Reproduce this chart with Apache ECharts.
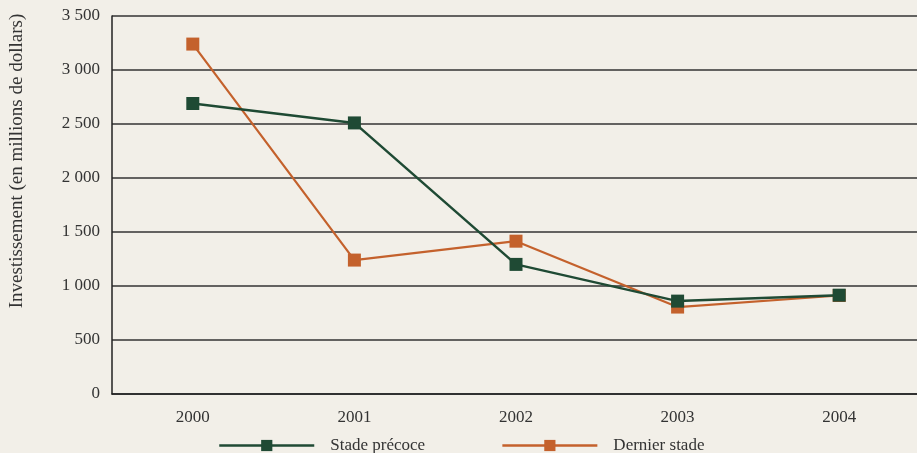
<!DOCTYPE html>
<html>
<head>
<meta charset="utf-8">
<script src="https://cdn.jsdelivr.net/npm/echarts@6/dist/echarts.min.js"></script>
<style>
  html, body { margin: 0; padding: 0; background: #f2efe8; }
  #main { width: 917px; height: 453px; }
</style>
</head>
<body>
<div id="main"></div>
<script>
var years = ["2000", "2001", "2002", "2003", "2004"];
var stadePrecoce = [2690, 2510, 1200, 860, 915];
var dernierStade = [3240, 1240, 1415, 805, 912];

var font = "Liberation Serif";
var green = "#1f4a34";
var orange = "#c4612c";

var myChart = echarts.init(document.getElementById("main"));
var option = {
  backgroundColor: "#f2efe8",
  textStyle: { fontFamily: font },
  grid: { left: 112, right: -3, top: 16, bottom: 59, outerBoundsMode: "none", containLabel: false },
  legend: {
    left: 213,
    top: 432,
    itemWidth: 95,
    itemHeight: 14,
    itemGap: 76,
    lineStyle: { width: 2.5 },
    textStyle: { fontFamily: font, fontSize: 17, color: "#333", padding: [0, 0, 0, 11] },
    data: ["Stade précoce", "Dernier stade"]
  },
  xAxis: {
    type: "category",
    data: years,
    axisLine: { lineStyle: { color: "#222", width: 1.5 } },
    axisTick: { inside: true, length: 7, alignWithLabel: true, lineStyle: { color: "#222" } },
    axisLabel: { margin: 15, fontSize: 17, color: "#333", fontFamily: font }
  },
  yAxis: {
    type: "value",
    min: 0,
    max: 3500,
    interval: 500,
    name: "Investissement (en millions de dollars)",
    nameLocation: "middle",
    nameGap: 85,
    nameTextStyle: { fontSize: 19, color: "#333", fontFamily: font, padding: [0, 0, 0, 88] },
    axisLine: { show: true, lineStyle: { color: "#222", width: 1.5 } },
    axisTick: { show: false },
    axisLabel: {
      margin: 12,
      fontSize: 17,
      color: "#333",
      fontFamily: font,
      formatter: function (v) {
        return String(v).replace(/\B(?=(\d{3})+(?!\d))/g, " ");
      }
    },
    splitLine: { lineStyle: { color: "#333", width: 1.5 } }
  },
  series: [
    {
      name: "Dernier stade",
      type: "line",
      data: dernierStade,
      symbol: "rect",
      symbolSize: 13,
      itemStyle: { color: orange },
      lineStyle: { color: orange, width: 2.2 },
      z: 2
    },
    {
      name: "Stade précoce",
      type: "line",
      data: stadePrecoce,
      symbol: "rect",
      symbolSize: 13,
      itemStyle: { color: green },
      lineStyle: { color: green, width: 2.5 },
      z: 3
    }
  ]
};
myChart.setOption(option);
</script>
</body>
</html>
